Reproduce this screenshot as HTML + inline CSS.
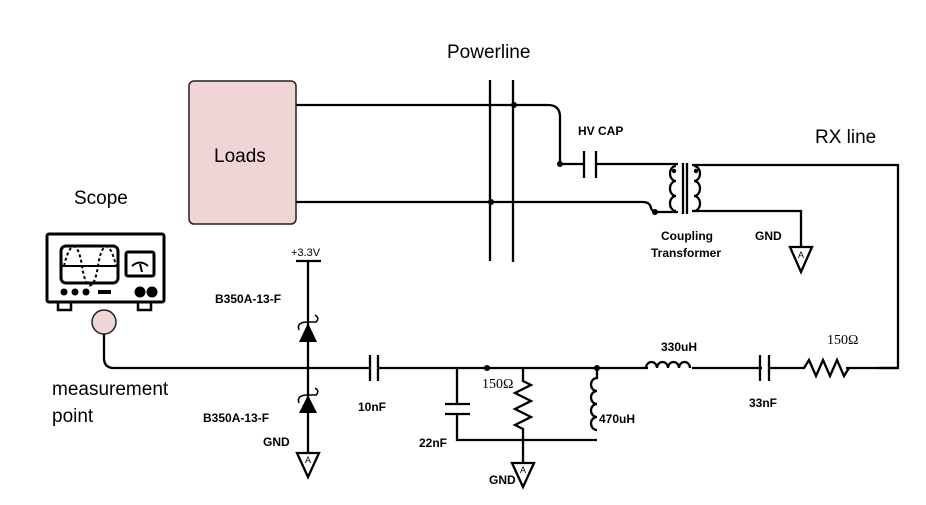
<!DOCTYPE html>
<html><head><meta charset="utf-8"><style>
html,body{margin:0;padding:0;background:#fff;}
svg{display:block;}
</style></head><body>
<svg width="926" height="505" viewBox="0 0 926 505" xmlns="http://www.w3.org/2000/svg" font-family="Liberation Sans, Arial, sans-serif">
<g fill="none" stroke="#000" stroke-width="2.3">
<rect x="189" y="81" width="107" height="143" rx="5" fill="#efd5d5" stroke="#222" stroke-width="1.5"/>
<line x1="490" y1="80" x2="490" y2="261"/>
<line x1="513" y1="80" x2="513" y2="262"/>
<path d="M296 105 H548 Q560 105 560 117 V164"/>
<path d="M296 202 H643 Q650 202 651 208 Q652 212 657 212 H678"/>
<path d="M560 164 H584 M596 164 H678"/>
<line x1="584" y1="151" x2="584" y2="178"/>
<line x1="596" y1="151" x2="596" y2="178"/>
<path d="M676 166 a6 7.5 0 0 0 0 15 a6 7.5 0 0 0 0 15 a6 7.5 0 0 0 0 15"/>
<line x1="683" y1="163" x2="683" y2="214"/>
<line x1="687" y1="163" x2="687" y2="214"/>
<path d="M694 166 a6 7.5 0 0 1 0 15 a6 7.5 0 0 1 0 15 a6 7.5 0 0 1 0 15"/>
<path d="M692 165 H898 V368 H878"/>
<path d="M692 211 H801 V247"/>
<path d="M790 247 H812 L801 272 Z"/>
<path d="M297 453 H319 L308 477 Z"/>
<path d="M512 463 H534 L523 487 Z"/>
<line x1="296" y1="261" x2="321" y2="261"/>
<line x1="308" y1="261" x2="308" y2="453"/>
<rect x="47" y="234" width="117" height="68" rx="2" stroke-width="3"/>
<rect x="61" y="246" width="57" height="37" rx="5" stroke-width="3"/>
<line x1="61" y1="266" x2="118" y2="266" stroke-width="2"/>
<path d="M64 266 C70 240 78 240 82 266 C86 292 94 292 98 266 C102 240 110 240 116 266" stroke-dasharray="3 2.5" stroke-width="2"/>
<rect x="126" y="252" width="28" height="24" rx="2" stroke-width="3"/>
<path d="M132 266 Q140 259 148 266" stroke-width="2"/>
<line x1="140" y1="264" x2="142" y2="272" stroke-width="2"/>
<path d="M58 302 V310 H71 V302 M138 302 V310 H151 V302" stroke-width="2.5"/>
<line x1="98" y1="292" x2="111" y2="292" stroke-width="4"/>
<path d="M104 334 V358 Q104 368 114 368 H370 M378 368 H898"/>
<line x1="370" y1="355" x2="370" y2="381"/>
<line x1="378" y1="355" x2="378" y2="381"/>
<path d="M457 368 V404 M457 414 V440 H597"/>
<line x1="445" y1="404" x2="470" y2="404"/>
<line x1="445" y1="414" x2="470" y2="414"/>
<path d="M523 368 V381 L531 385 L515 393 L531 401 L515 409 L531 417 L515 425 L523 429 V463"/>
<path d="M597 368 V378 a6 6.5 0 0 0 0 13 a6 6.5 0 0 0 0 13 a6 6.5 0 0 0 0 13 a6 6.5 0 0 0 0 13"/>
<line x1="648" y1="368" x2="692" y2="368" stroke="#fff" stroke-width="4"/>
<path d="M646 368 a5.5 6 0 0 1 11 0 a5.5 6 0 0 1 11 0 a5.5 6 0 0 1 11 0 a5.5 6 0 0 1 11 0"/>
<line x1="762" y1="368" x2="768" y2="368" stroke="#fff" stroke-width="4"/>
<line x1="760" y1="355" x2="760" y2="381"/>
<line x1="769" y1="355" x2="769" y2="381"/>
<line x1="805" y1="368" x2="846" y2="368" stroke="#fff" stroke-width="4"/>
<path d="M804 368 L809 360 L816 376 L823 360 L830 376 L837 360 L844 376 L849 368"/>
</g>
<g fill="#000">
<circle cx="64" cy="292" r="3.5"/><circle cx="75" cy="292" r="3.5"/><circle cx="86" cy="292" r="3.5"/>
<circle cx="140" cy="292" r="5.5"/><circle cx="152" cy="292" r="5.5"/>
<circle cx="514" cy="105" r="3"/><circle cx="560" cy="164" r="3"/>
<circle cx="491" cy="202" r="3"/><circle cx="655" cy="212" r="3"/>
<circle cx="487" cy="368" r="3"/><circle cx="597" cy="368" r="3"/>
<circle cx="674" cy="171" r="2.2"/><circle cx="696" cy="171" r="2.2"/>
<path d="M299 342 H317 L308 323 Z"/>
<path d="M299 413 H317 L308 395 Z"/>
</g>
<g fill="none" stroke="#000" stroke-width="1.6">
<path d="M299 330 Q296 322 308 322 H316 Q320 318 315 315"/>
<path d="M299 403 Q296 395 308 395 H316 Q320 391 315 388"/>
</g>
<circle cx="104" cy="322" r="12" fill="#efd5d5" stroke="#222" stroke-width="1.5"/>
<g font-size="9" text-anchor="middle" fill="#000">
<text x="801" y="258">A</text><text x="308" y="463">A</text><text x="523" y="473">A</text>
</g>
<g fill="#000">
<text x="447" y="58" font-size="19">Powerline</text>
<text x="815" y="143" font-size="19">RX line</text>
<text x="214" y="162" font-size="19">Loads</text>
<text x="74" y="204" font-size="19">Scope</text>
<text x="52" y="395" font-size="19">measurement</text>
<text x="52" y="422" font-size="19">point</text>
<text x="291" y="256" font-size="11">+3.3V</text>
</g>
<g fill="#000" font-size="12" font-weight="bold">
<text x="578" y="135">HV CAP</text>
<text x="661" y="240">Coupling</text>
<text x="651" y="257">Transformer</text>
<text x="755" y="240">GND</text>
<text x="215" y="303">B350A-13-F</text>
<text x="203" y="422">B350A-13-F</text>
<text x="263" y="446">GND</text>
<text x="358" y="411">10nF</text>
<text x="419" y="447">22nF</text>
<text x="599" y="423">470uH</text>
<text x="489" y="484">GND</text>
<text x="661" y="351">330uH</text>
<text x="749" y="407">33nF</text>
</g>
<g fill="#000" font-family="Liberation Serif, serif" font-size="14">
<text x="482" y="388">150Ω</text>
<text x="827" y="344">150Ω</text>
</g>
</svg>
</body></html>
